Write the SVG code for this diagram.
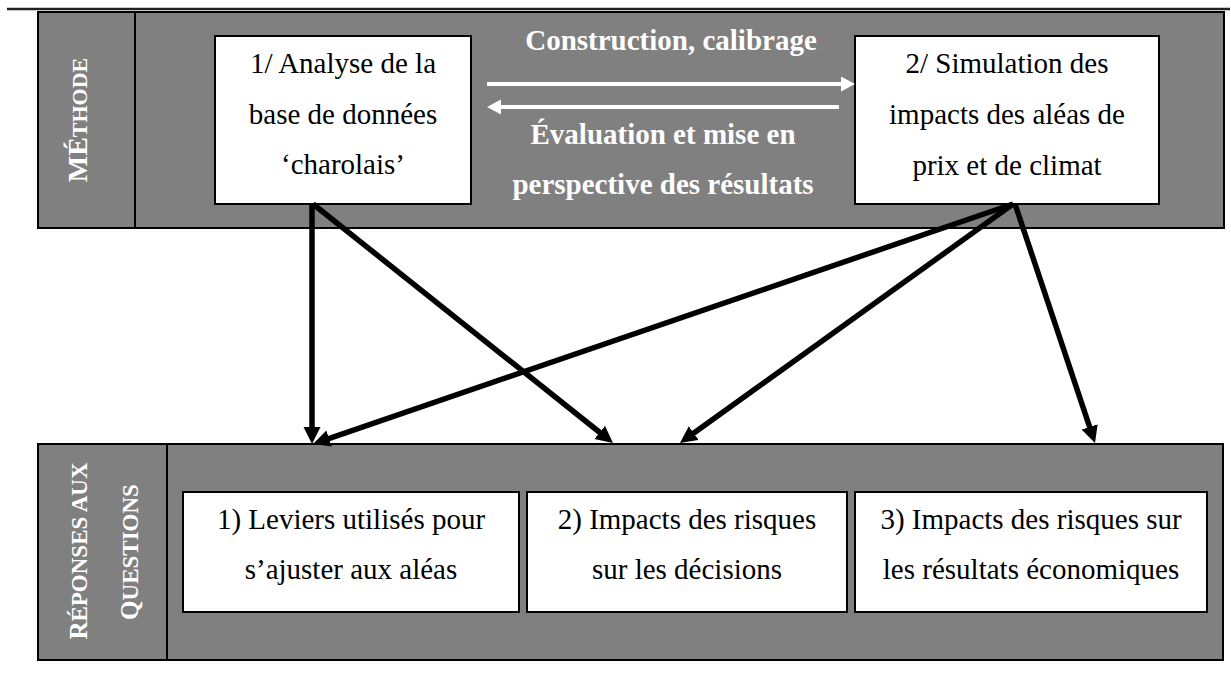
<svg xmlns="http://www.w3.org/2000/svg" width="1231" height="695" viewBox="0 0 1231 695" font-family="Liberation Serif, Times New Roman, serif">
<style>
.panel{fill:#808080;stroke:#000;stroke-width:2}
.box{fill:#fff;stroke:#000;stroke-width:2}
.t{font-size:29px;fill:#000;text-anchor:middle}
.w{font-size:29px;font-weight:bold;fill:#fff;text-anchor:middle}
.v{font-weight:bold;fill:#fff;text-anchor:middle}
.blk{stroke:#000;stroke-width:5.5;fill:none}
.wht{stroke:#fff;stroke-width:4;fill:none}
</style>
<defs>
<marker id="ab" markerUnits="userSpaceOnUse" markerWidth="18" markerHeight="18" refX="5" refY="8.5" orient="auto" viewBox="0 0 18 18"><path d="M0,0 L17,8.5 L0,17 z" fill="#000"/></marker>
<marker id="aw" markerUnits="userSpaceOnUse" markerWidth="16" markerHeight="16" refX="4" refY="7.5" orient="auto" viewBox="0 0 16 16"><path d="M0,0 L14,7.5 L0,15 z" fill="#fff"/></marker>
</defs>
<line x1="7" y1="9" x2="1230" y2="9" stroke="#222" stroke-width="2.5"/>
<g id="methode">
<rect class="panel" x="38" y="12" width="1186" height="216"/>
<line x1="135" y1="12" x2="135" y2="228" stroke="#000" stroke-width="2"/>
<text class="v" font-family="Liberation Serif, serif" transform="translate(86.5,120) rotate(-90)"><tspan font-size="28">MÉ</tspan><tspan font-size="22">THODE</tspan></text>
</g>
<g id="reponses">
<rect class="panel" x="38" y="444" width="1185" height="216"/>
<line x1="167" y1="444" x2="167" y2="660" stroke="#000" stroke-width="2"/>
<text class="v" font-family="Liberation Serif, serif" transform="translate(86.5,551) rotate(-90)"><tspan font-size="25">R</tspan><tspan font-size="23">ÉPONSES AUX</tspan></text>
<text class="v" font-family="Liberation Serif, serif" transform="translate(137.5,552) rotate(-90)"><tspan font-size="25">Q</tspan><tspan font-size="23">UESTIONS</tspan></text>
</g>
<g id="node1" font-family="Liberation Serif, serif">
<rect class="box" x="215" y="36" width="256" height="168"/>
<text class="t" x="343" y="73">1/ Analyse de la</text>
<text class="t" x="343" y="123.5">base de données</text>
<text class="t" x="343" y="174">‘charolais’</text>
</g>
<g id="node2" font-family="Liberation Serif, serif">
<rect class="box" x="855" y="36" width="304" height="168"/>
<text class="t" x="1007" y="73">2/ Simulation des</text>
<text class="t" x="1007" y="124">impacts des aléas de</text>
<text class="t" x="1007" y="175">prix et de climat</text>
</g>
<g id="q1" font-family="Liberation Serif, serif">
<rect class="box" x="183" y="492" width="336" height="120"/>
<text class="t" x="351" y="529">1) Leviers utilisés pour</text>
<text class="t" x="351" y="579">s’ajuster aux aléas</text>
</g>
<g id="q2" font-family="Liberation Serif, serif">
<rect class="box" x="527" y="492" width="320" height="120"/>
<text class="t" x="687" y="529">2) Impacts des risques</text>
<text class="t" x="687" y="579">sur les décisions</text>
</g>
<g id="q3" font-family="Liberation Serif, serif">
<rect class="box" x="855" y="492" width="352" height="120"/>
<text class="t" x="1031" y="529">3) Impacts des risques sur</text>
<text class="t" x="1031" y="579">les résultats économiques</text>
</g>
<g id="labels" font-family="Liberation Serif, serif">
<text class="w" x="671" y="50">Construction, calibrage</text>
<text class="w" x="663" y="144">Évaluation et mise en</text>
<text class="w" x="663" y="194">perspective des résultats</text>
</g>
<g id="connectors">
<line class="wht" x1="487" y1="84" x2="845" y2="84" marker-end="url(#aw)"/>
<line class="wht" x1="839" y1="107" x2="497" y2="107" marker-end="url(#aw)"/>
<line class="blk" x1="312" y1="204" x2="312" y2="432" marker-end="url(#ab)"/>
<line class="blk" x1="313" y1="204" x2="603.6" y2="435.5" marker-end="url(#ab)"/>
<line class="blk" x1="1013" y1="204" x2="324.4" y2="440.1" marker-end="url(#ab)"/>
<line class="blk" x1="1013" y1="204" x2="689.7" y2="436" marker-end="url(#ab)"/>
<line class="blk" x1="1015" y1="204" x2="1091.2" y2="431.6" marker-end="url(#ab)"/>
</g>
</svg>
